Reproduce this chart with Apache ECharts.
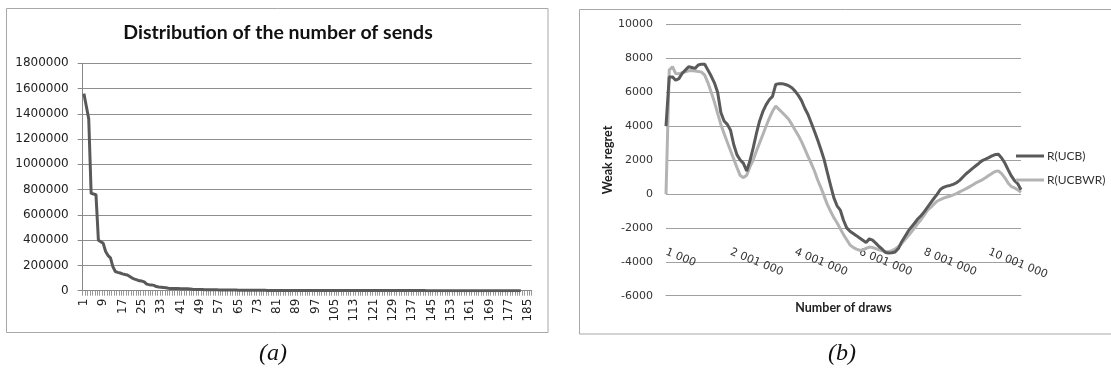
<!DOCTYPE html>
<html>
<head>
<meta charset="utf-8">
<script src="https://cdn.jsdelivr.net/npm/echarts@6/dist/echarts.min.js"></script>
<style>
  html, body { margin: 0; padding: 0; background: #fff; }
  #chart { width: 1111px; height: 377px; }
</style>
</head>
<body>
<div id="chart"></div>
<script>
// (a) number of sends per rank
const sendRanks = [
  1, 2, 3, 4, 5, 6, 7, 8, 9, 10,
  11, 12, 13, 14, 15, 16, 17, 18, 19, 20,
  21, 22, 23, 24, 25, 26, 27, 28, 29, 30,
  31, 32, 33, 34, 35, 36, 37, 38, 39, 40,
  41, 42, 43, 44, 45, 46, 47, 48, 49, 50,
  51, 52, 53, 54, 55, 56, 57, 58, 59, 60,
  61, 62, 63, 64, 65, 66, 67, 68, 69, 70,
  71, 72, 73, 74, 75, 76, 77, 78, 79, 80,
  81, 82, 83, 84, 85, 86, 87, 88, 89, 90,
  91, 92, 93, 94, 95, 96, 97, 98, 99, 100,
  101, 102, 103, 104, 105, 106, 107, 108, 109, 110,
  111, 112, 113, 114, 115, 116, 117, 118, 119, 120,
  121, 122, 123, 124, 125, 126, 127, 128, 129, 130,
  131, 132, 133, 134, 135, 136, 137, 138, 139, 140,
  141, 142, 143, 144, 145, 146, 147, 148, 149, 150,
  151, 152, 153, 154, 155, 156, 157, 158, 159, 160,
  161, 162, 163, 164, 165, 166, 167, 168, 169, 170,
  171, 172, 173, 174, 175, 176, 177, 178, 179, 180,
  181, 182, 183, 184, 185, 186
];
const sendCounts = [
  1560000, 1460000, 1360000, 770000, 765000, 760000, 400000, 388000, 375000, 310000,
  278000, 260000, 190000, 152000, 145000, 140000, 133000, 128000, 124000, 112000,
  100000, 92000, 86000, 78000, 76000, 70000, 52000, 48000, 46000, 42000,
  33000, 29000, 28000, 26000, 24000, 20000, 18000, 18000, 17000, 17000,
  16000, 16000, 15000, 15000, 14000, 11000, 10000, 10000, 9000, 9000,
  8500, 8000, 8000, 7500, 7000, 7000, 6500, 6500, 6000, 6000,
  5500, 5500, 5000, 5000, 4500, 4000, 3500, 3300, 3200, 3000,
  3000, 2900, 2800, 2800, 2700, 2600, 2500, 2500, 2400, 2400,
  2300, 2300, 2200, 2200, 2100, 2100, 2000, 2000, 1900, 1900,
  1800, 1800, 1800, 1700, 1700, 1700, 1600, 1600, 1600, 1500,
  1500, 1500, 1400, 1400, 1400, 1300, 1300, 1300, 1200, 1200,
  1200, 1100, 1100, 1100, 1100, 1000, 1000, 1000, 1000, 900,
  900, 900, 900, 900, 800, 800, 800, 800, 800, 700,
  700, 700, 700, 700, 700, 600, 600, 600, 600, 600,
  600, 600, 500, 500, 500, 500, 500, 500, 500, 500,
  500, 400, 400, 400, 400, 400, 400, 400, 400, 400,
  400, 300, 300, 300, 300, 300, 300, 300, 300, 300,
  300, 300, 200, 200, 200, 200, 200, 200, 200, 200,
  200, 200
];
const sendTicks = [0, 200000, 400000, 600000, 800000, 1000000, 1200000, 1400000, 1600000, 1800000];

// (b) weak regret against the number of draws (in thousands)
const drawsK = [
  1, 101, 201, 301, 401, 501, 601, 701, 801, 901,
  1001, 1101, 1201, 1301, 1401, 1501, 1601, 1701, 1801, 1901,
  2001, 2101, 2201, 2301, 2401, 2501, 2601, 2701, 2801, 2901,
  3001, 3101, 3201, 3301, 3401, 3501, 3601, 3701, 3801, 3901,
  4001, 4101, 4201, 4301, 4401, 4501, 4601, 4701, 4801, 4901,
  5001, 5101, 5201, 5301, 5401, 5501, 5601, 5701, 5801, 5901,
  6001, 6101, 6201, 6301, 6401, 6501, 6601, 6701, 6801, 6901,
  7001, 7101, 7201, 7301, 7401, 7501, 7601, 7701, 7801, 7901,
  8001, 8101, 8201, 8301, 8401, 8501, 8601, 8701, 8801, 8901,
  9001, 9101, 9201, 9301, 9401, 9501, 9601, 9701, 9801, 9901,
  10001, 10101, 10201, 10301, 10401, 10501, 10601, 10701, 10801, 10901,
  11001
];
const regretUCB = [
  4000, 6900, 6900, 6700, 6800, 7100, 7300, 7500, 7450, 7400,
  7600, 7650, 7650, 7300, 6950, 6550, 6000, 4800, 4300, 4100,
  3750, 2900, 2300, 2000, 1800, 1350, 1950, 2700, 3550, 4300,
  4850, 5250, 5550, 5750, 6450, 6500, 6500, 6450, 6380, 6260,
  6060, 5810, 5500, 5050, 4680, 4200, 3700, 3180, 2620, 2020,
  1250, 500, -220, -700, -950, -1550, -2000, -2200, -2330, -2460,
  -2600, -2730, -2860, -2650, -2720, -2900, -3100, -3260, -3450, -3480,
  -3470, -3420, -3220, -2830, -2520, -2210, -1960, -1730, -1480, -1290,
  -1060, -790, -530, -270, -30, 260, 390, 460, 500, 560,
  660, 800, 1000, 1190, 1340, 1510, 1660, 1810, 1970, 2050,
  2140, 2240, 2320, 2340, 2120, 1820, 1430, 1060, 780, 600,
  250
];
const regretUCBWR = [
  0, 7300, 7500, 7100, 7080, 7150, 7200, 7260, 7270, 7250,
  7220, 7180, 7000, 6550, 6000, 5420, 4750, 4100, 3560, 3050,
  2550, 2050, 1550, 1080, 960, 1100, 1590, 2000, 2520, 3010,
  3490, 3990, 4450, 4870, 5180, 4980, 4800, 4610, 4400, 4100,
  3770, 3450, 3080, 2650, 2220, 1800, 1350, 820, 370, -130,
  -630, -1020, -1400, -1700, -2050, -2400, -2700, -3000, -3150, -3250,
  -3320, -3300, -3210, -3130, -3160, -3230, -3300, -3350, -3390, -3410,
  -3340, -3250, -3120, -2930, -2710, -2480, -2250, -2000, -1750, -1520,
  -1250, -970, -800, -600, -430, -330, -250, -180, -135, -60,
  20, 120, 215, 310, 415, 530, 650, 740, 830, 950,
  1080, 1210, 1320, 1360, 1200, 950, 650, 430, 350, 240,
  100
];
const regretTicks = [-6000, -4000, -2000, 0, 2000, 4000, 6000, 8000, 10000];

const seriesNames = ['R(UCB)', 'R(UCBWR)'];

// thousands -> "2 001 000"
function spacedDraws(k) {
  const s = String(k * 1000);
  return s.replace(/\B(?=(\d{3})+(?!\d))/g, ' ');
}
// plain integers, no grouping separators
const plainNumber = (v) => String(v);

const chart = echarts.init(document.getElementById('chart'), null, { renderer: 'canvas' });

const sans = 'DejaVu Sans';
const gridGrey = '#8f8f8f';

chart.setOption({
  animation: false,
  backgroundColor: '#ffffff',
  title: [
    {
      text: 'Distribution of the number of sends',
      left: 278, top: 23, textAlign: 'center', padding: 0,
      textStyle: { fontFamily: 'Lato', fontWeight: 'bold', fontSize: 19.5, color: '#111' }
    },
    {
      text: '(a)', left: 273, top: 342, textAlign: 'center', padding: 0,
      textStyle: { fontFamily: 'Liberation Serif', fontStyle: 'italic', fontWeight: 'normal', fontSize: 24, color: '#111' }
    },
    {
      text: '(b)', left: 842, top: 342, textAlign: 'center', padding: 0,
      textStyle: { fontFamily: 'Liberation Serif', fontStyle: 'italic', fontWeight: 'normal', fontSize: 24, color: '#111' }
    }
  ],
  graphic: [
    {
      type: 'rect', silent: true, z: -1,
      shape: { x: 6.5, y: 8.5, width: 541.5, height: 324 },
      style: { fill: 'none', stroke: '#a8a8a8', lineWidth: 1 }
    },
    {
      type: 'rect', silent: true, z: -1,
      shape: { x: 579.5, y: 9.5, width: 545, height: 324.5 },
      style: { fill: 'none', stroke: '#a8a8a8', lineWidth: 1 }
    }
  ],
  legend: {
    data: seriesNames,
    orient: 'vertical',
    left: 1016, top: 150,
    itemWidth: 28, itemHeight: 3, itemGap: 12,
    icon: 'rect',
    padding: 0,
    textStyle: { fontFamily: 'Lato', fontSize: 12, color: '#333', padding: [0, 0, 0, -2] }
  },
  grid: [
    { left: 82.7, right: 579.3, top: 63.3, bottom: 86.3, containLabel: false, outerBoundsMode: 'none' },
    { left: 666, right: 90, top: 24.3, bottom: 81.3, containLabel: false, outerBoundsMode: 'none' }
  ],
  xAxis: [
    {
      gridIndex: 0, type: 'category', data: sendRanks, boundaryGap: true,
      axisLine: { show: true, lineStyle: { color: '#888', width: 1 } },
      axisTick: { show: true, interval: 0, length: 5, lineStyle: { color: '#999', width: 1 } },
      axisLabel: {
        interval: 7, rotate: 90, margin: 8,
        fontFamily: sans, fontSize: 12, color: '#222'
      },
      splitLine: { show: false }
    },
    {
      gridIndex: 1, type: 'category', data: drawsK, boundaryGap: false, position: 'bottom',
      axisLine: { show: true, onZero: false, lineStyle: { color: '#a0a0a0', width: 1.2 } },
      axisTick: { show: false },
      axisLabel: {
        interval: 19, rotate: -22, margin: -44,
        fontFamily: sans, fontSize: 11, color: '#333',
        formatter: (v) => spacedDraws(Number(v))
      },
      splitLine: { show: false },
      name: 'Number of draws', nameLocation: 'middle', nameGap: 6,
      nameTextStyle: { fontFamily: 'Lato', fontWeight: 'bold', fontSize: 12.5, color: '#222', verticalAlign: 'top' }
    }
  ],
  yAxis: [
    {
      gridIndex: 0, type: 'value',
      min: sendTicks[0], max: sendTicks[sendTicks.length - 1], interval: sendTicks[1] - sendTicks[0],
      axisLine: { show: true, lineStyle: { color: '#888', width: 1 } },
      axisTick: { show: true, length: 5, lineStyle: { color: '#888', width: 1 } },
      axisLabel: { margin: 14, fontFamily: sans, fontSize: 12, color: '#222', formatter: plainNumber },
      splitLine: { show: true, lineStyle: { color: gridGrey, width: 1 } }
    },
    {
      gridIndex: 1, type: 'value',
      min: regretTicks[0], max: regretTicks[regretTicks.length - 1], interval: regretTicks[1] - regretTicks[0],
      axisLine: { show: false },
      axisTick: { show: false },
      axisLabel: { margin: 13, fontFamily: sans, fontSize: 11, color: '#333', formatter: plainNumber },
      splitLine: { show: true, lineStyle: { color: '#a0a0a0', width: 1.2 } },
      name: 'Weak regret', nameLocation: 'middle', nameGap: 50,
      nameTextStyle: { fontFamily: 'Lato', fontWeight: 'bold', fontSize: 12.5, color: '#222' }
    }
  ],
  series: [
    {
      type: 'line', xAxisIndex: 0, yAxisIndex: 0,
      data: sendCounts, showSymbol: false, smooth: false,
      lineStyle: { color: '#595959', width: 3 }, itemStyle: { color: '#595959' }
    },
    {
      name: seriesNames[1], type: 'line', xAxisIndex: 1, yAxisIndex: 1,
      data: regretUCBWR, showSymbol: false, smooth: false, z: 2,
      lineStyle: { color: '#b3b3b3', width: 3 }, itemStyle: { color: '#b3b3b3' }
    },
    {
      name: seriesNames[0], type: 'line', xAxisIndex: 1, yAxisIndex: 1,
      data: regretUCB, showSymbol: false, smooth: false, z: 3,
      lineStyle: { color: '#5a5a5a', width: 3 }, itemStyle: { color: '#5a5a5a' }
    }
  ]
});
</script>
</body>
</html>
